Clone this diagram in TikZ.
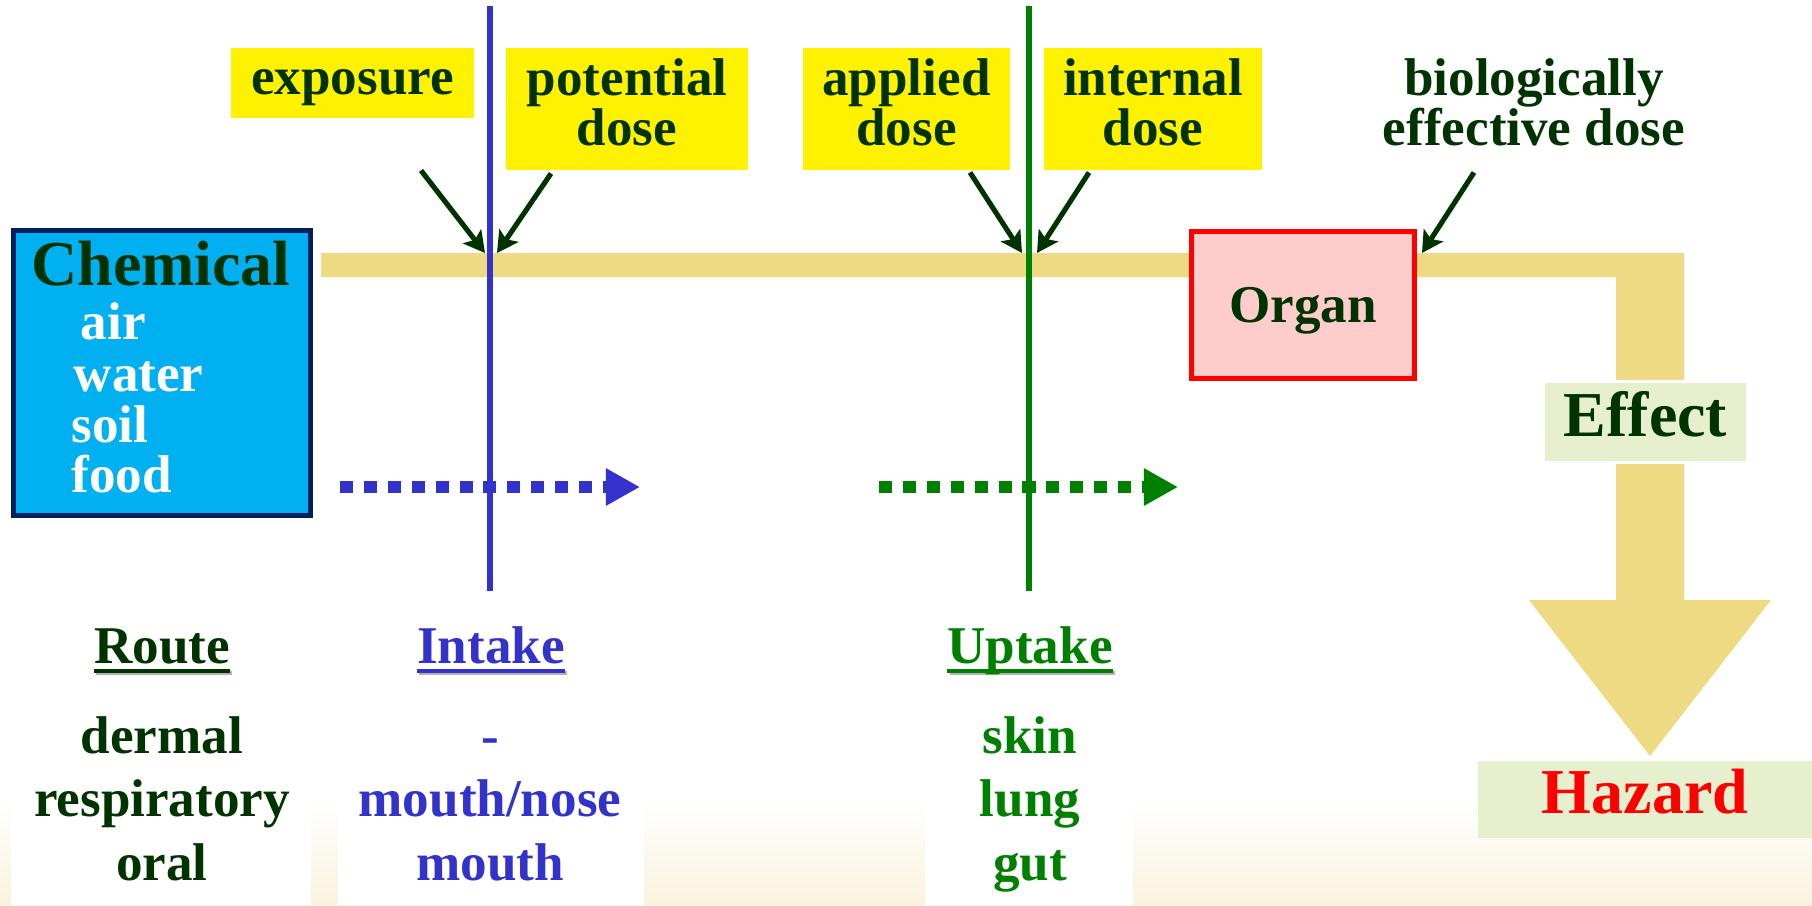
\documentclass[tikz,border=0pt]{standalone}
\usepackage{fontspec}
\setmainfont{Liberation Serif}
\usepackage{xcolor}
\usetikzlibrary{positioning}
\usetikzlibrary{arrows.meta}

\definecolor{dkgreen}{RGB}{0,51,0}
\definecolor{inblue}{RGB}{51,51,204}
\definecolor{upgreen}{RGB}{0,128,0}
\definecolor{bandcol}{RGB}{238,218,130}
\definecolor{chemfill}{RGB}{0,176,240}
\definecolor{chemline}{RGB}{0,32,96}
\definecolor{organfill}{RGB}{255,204,204}
\definecolor{effectfill}{RGB}{230,240,206}
\definecolor{cream}{RGB}{249,242,221}

\newcommand{\headline}[1]{\setbox0\hbox{#1}\rlap{\kern0.6pt\color{black!30}\rule[-3.4pt]{\wd0}{1.1pt}}\rlap{\rule[-2.8pt]{\wd0}{1.1pt}}\box0}

\begin{document}
\begin{tikzpicture}[
    x=0.01cm, y=-0.01cm,
    midtxt/.style={font=\fontsize{15.1}{14.2}\selectfont\bfseries},
    bigtxt/.style={font=\fontsize{18.2}{18}\selectfont\bfseries},
    dosebox/.style={midtxt, fill=yellow, text=dkgreen, align=center, inner sep=0, anchor=north, minimum height=1.22cm, text depth=0.14cm},
    ptr/.style={draw=dkgreen, line width=1.45pt, -{Stealth[length=6pt,width=6.5pt,inset=1.3pt]}},
    flow/.style={line width=3.4pt, dash pattern=on 3.7pt off 3.1pt, -{Triangle[length=9.7pt,width=10pt]}},
    coltxt/.style={midtxt, anchor=base}
]
\useasboundingbox (0,0) rectangle (1812,905);

% Background
\fill[white] (0,0) rectangle (1812,905);
\shade[top color=white, bottom color=cream] (0,800) rectangle (1812,905);
\fill[white] (11,700) rectangle (311,905);
\fill[white] (338,700) rectangle (644,905);
\fill[white] (925,700) rectangle (1133,905);

% Pathway band with arrow
\fill[bandcol] (321,253) -- (1684,253) -- (1684,600) -- (1771,600) -- (1650,756)
    -- (1529,600) -- (1616,600) -- (1616,277) -- (321,277) -- cycle;

% Chemical source
\node[draw=chemline, line width=1.4pt, fill=chemfill, minimum width=2.97cm, minimum height=2.85cm, inner sep=0] (chem) at (162,373) {};
\node[bigtxt, text=dkgreen, anchor=base] (chemname) at (161,285) {Chemical};
\node[midtxt, text=white, anchor=base west, inner sep=0] (air) at (80,339) {air};
\node[midtxt, text=white, anchor=base west, inner sep=0] (water) at (73,391) {water};
\node[midtxt, text=white, anchor=base west, inner sep=0] (soil) at (71,442) {soil};
\node[midtxt, text=white, anchor=base west, inner sep=0] (food) at (71,492) {food};

% Dose labels
\node[dosebox, minimum width=2.43cm, minimum height=0.70cm, text height=0.38cm] (expo) at (352.5,47) {exposure};
\node[dosebox, minimum width=2.42cm] (pot) at (627,47) {potential\\dose};
\node[dosebox, minimum width=2.07cm] (appl) at (906.5,47) {applied\\dose};
\node[dosebox, minimum width=2.18cm] (intl) at (1153,47) {internal\\dose};
\node[dosebox, fill=none, minimum width=3.2cm] (bio) at (1534,47) {biologically\\effective dose};

% Organ, effect, hazard
\node[draw=red, line width=1.6pt, fill=organfill, minimum width=2.23cm, minimum height=1.47cm, midtxt, text=dkgreen, text depth=0pt] (organ) at (1303,305) {Organ};
\node[fill=effectfill, draw=white, line width=0.9pt, inner sep=0, minimum width=2.04cm, minimum height=0.81cm, bigtxt, text=dkgreen, text depth=0.16cm] (effect) at (1645.5,422) {Effect};
\node[fill=effectfill, inner sep=0, minimum width=3.34cm, minimum height=0.77cm, bigtxt, text=red, text depth=0.16cm] (hazard) at (1645,799.5) {Hazard};

% Intake and uptake flows
\coordinate (inFrom) at (340,487);
\coordinate (inTo) at (640,487);
\coordinate (upFrom) at (879,487);
\coordinate (upTo) at (1178,487);
\draw[flow, inblue] (inFrom) -- (inTo);
\draw[flow, upgreen] (upFrom) -- (upTo);

% Boundaries
\coordinate (inTop) at (490,6);
\coordinate (inBot) at (490,591);
\coordinate (upTop) at (1029,6);
\coordinate (upBot) at (1029,591);
\draw[inblue, line width=1.6pt] (inTop) -- (inBot);
\draw[upgreen, line width=1.5pt] (upTop) -- (upBot);

% Pointers to the band
\coordinate (expoTip) at (485,253);
\coordinate (potTip) at (497,253);
\coordinate (applTip) at (1022,253);
\coordinate (intlTip) at (1037,253);
\coordinate (bioTip) at (1422,253);
\draw[ptr] ([shift={(68.5,52)}]expo.south) -- (expoTip);
\draw[ptr] ([shift={(-76,3)}]pot.south) -- (potTip);
\draw[ptr] ([shift={(63.5,2)}]appl.south) -- (applTip);
\draw[ptr] ([shift={(-64,2)}]intl.south) -- (intlTip);
\draw[ptr] ([shift={(-60,2)}]bio.south) -- (bioTip);

% Columns
\node[coltxt, text=dkgreen] (route) at (162,663) {\headline{Route}};
\node[coltxt, text=dkgreen] (dermal) at (162,753) {dermal};
\node[coltxt, text=dkgreen] (resp) at (162,816) {respiratory};
\node[coltxt, text=dkgreen] (oral) at (162,880) {oral};

\node[coltxt, text=inblue] (intake) at (491,663) {\headline{Intake}};
\node[coltxt, text=inblue] (dash) at (490,753) {-};
\node[coltxt, text=inblue] (mnose) at (490,816) {mouth/nose};
\node[coltxt, text=inblue] (mouth) at (490,880) {mouth};

\node[coltxt, text=upgreen] (uptake) at (1030,663) {\headline{Uptake}};
\node[coltxt, text=upgreen] (skin) at (1030,753) {skin};
\node[coltxt, text=upgreen] (lung) at (1030,816) {lung};
\node[coltxt, text=upgreen] (gut) at (1030,880) {gut};

\end{tikzpicture}
\end{document}
